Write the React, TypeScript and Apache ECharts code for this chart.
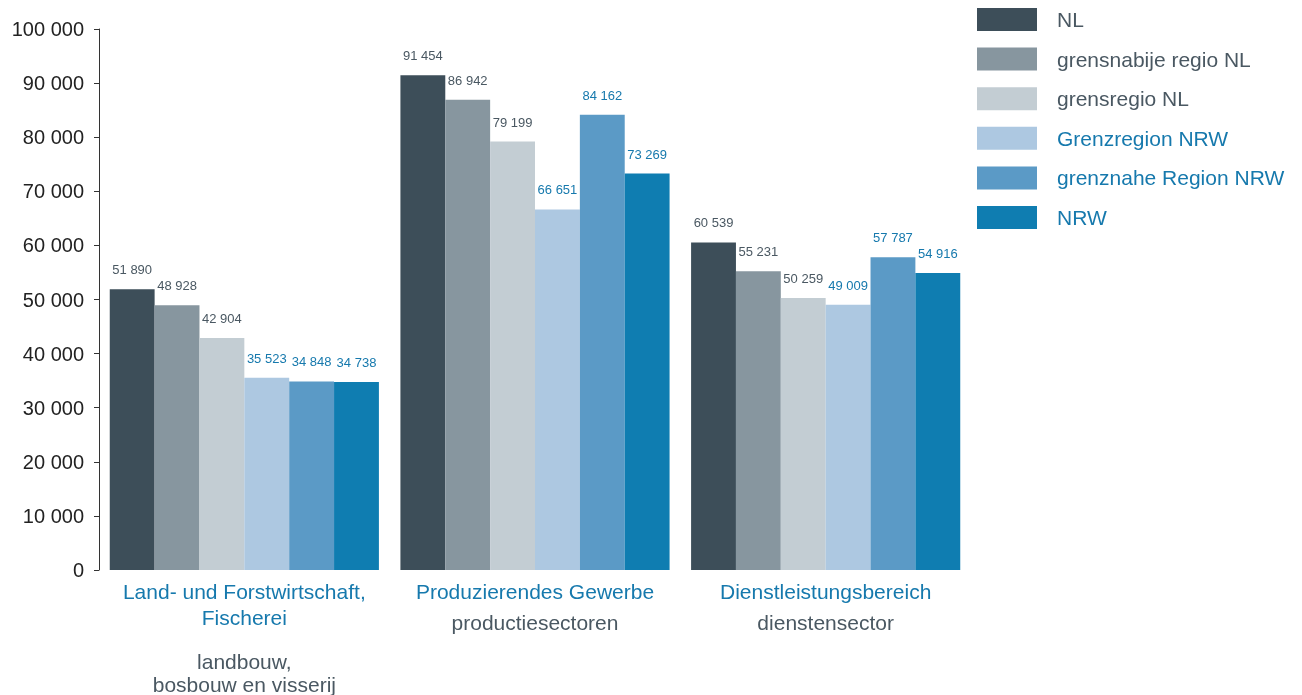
import React, { useEffect, useRef } from "react";
import * as echarts from "echarts";

const categoriesDE = ["Land- und Forstwirtschaft,\nFischerei", "Produzierendes Gewerbe", "Dienstleistungsbereich"];
const categoriesNL = ["landbouw,\nbosbouw en visserij", "productiesectoren", "dienstensector"];
const seriesNames = ["NL", "grensnabije regio NL", "grensregio NL", "Grenzregion NRW", "grenznahe Region NRW", "NRW"];
const seriesColors = ["#3d4e59", "#87969f", "#c3cdd3", "#adc8e1", "#5b9ac6", "#0f7db1"];
const labelColors = ["#4a5862", "#4a5862", "#4a5862", "#1679ad", "#1679ad", "#1679ad"];
const valNL = [51890, 91454, 60539];
const valGrensnabij = [48928, 86942, 55231];
const valGrensregio = [42904, 79199, 50259];
const valGrenzregionNRW = [35523, 66651, 49009];
const valGrenznahe = [34848, 84162, 57787];
const valNRW = [34738, 73269, 54916];
const seriesValues = [valNL, valGrensnabij, valGrensregio, valGrenzregionNRW, valGrenznahe, valNRW];

const fmt = (v: number) => String(v).replace(/\B(?=(\d{3})+(?!\d))/g, " ");
const FONT = "'Liberation Sans', Arial, Helvetica, sans-serif";

export default function App() {
  const ref = useRef<HTMLDivElement>(null);
  useEffect(() => {
    if (!ref.current) return;
    const chart = echarts.init(ref.current, undefined, { renderer: "svg" });
    chart.setOption({
      animation: false,
      textStyle: { fontFamily: FONT },
      legend: {
        orient: "vertical",
        left: 977,
        top: 8,
        padding: 0,
        itemWidth: 60,
        itemHeight: 23,
        itemGap: 16.6,
        icon: "rect",
        textStyle: { fontSize: 21, padding: [0, 0, 0, 15] },
        data: seriesNames.map((n, i) => ({ name: n, textStyle: { color: labelColors[i] } })),
      },
      grid: { left: 99, width: 872, top: 29, bottom: 125, containLabel: false, outerBoundsMode: "none" },
      xAxis: {
        type: "category",
        data: categoriesDE,
        axisLine: { show: false },
        axisTick: { show: false },
        axisLabel: {
          margin: 8,
          interval: 0,
          formatter: (v: string, idx: number) => {
            const de = v.split("\n").map((s) => `{de|${s}}`).join("\n");
            const nl = categoriesNL[idx].split("\n").map((s) => `{nl|${s}}`).join("\n");
            const sp = idx === 0 ? "{sp1| }" : "{sp2| }";
            return `${de}\n${sp}\n${nl}`;
          },
          rich: {
            de: { color: "#1679ad", fontSize: 21, lineHeight: 26, fontFamily: FONT },
            nl: { color: "#4a5862", fontSize: 21, lineHeight: 23, fontFamily: FONT },
            sp1: { fontSize: 4, lineHeight: 20 },
            sp2: { fontSize: 4, lineHeight: 7 },
          },
        },
      },
      yAxis: {
        type: "value",
        min: 0,
        max: 100000,
        interval: 10000,
        splitLine: { show: false },
        axisLine: { show: true, lineStyle: { color: "#333", width: 1 } },
        axisTick: { show: true, length: 5, lineStyle: { color: "#333" } },
        axisLabel: { fontSize: 20, color: "#222", margin: 15, formatter: (v: number) => fmt(v), fontFamily: FONT },
      },
      series: seriesNames.map((n, i) => ({
        name: n,
        type: "bar",
        data: seriesValues[i],
        barGap: "0%",
        barCategoryGap: "7.4%",
        itemStyle: { color: seriesColors[i] },
        label: {
          show: true,
          position: "top",
          distance: 13,
          fontSize: 13,
          color: labelColors[i],
          fontFamily: FONT,
          formatter: (p: any) => fmt(p.value),
        },
      })),
    });
    return () => chart.dispose();
  }, []);
  return <div ref={ref} style={{ position: "fixed", left: 0, top: 0, width: 1302, height: 695 }} />;
}
